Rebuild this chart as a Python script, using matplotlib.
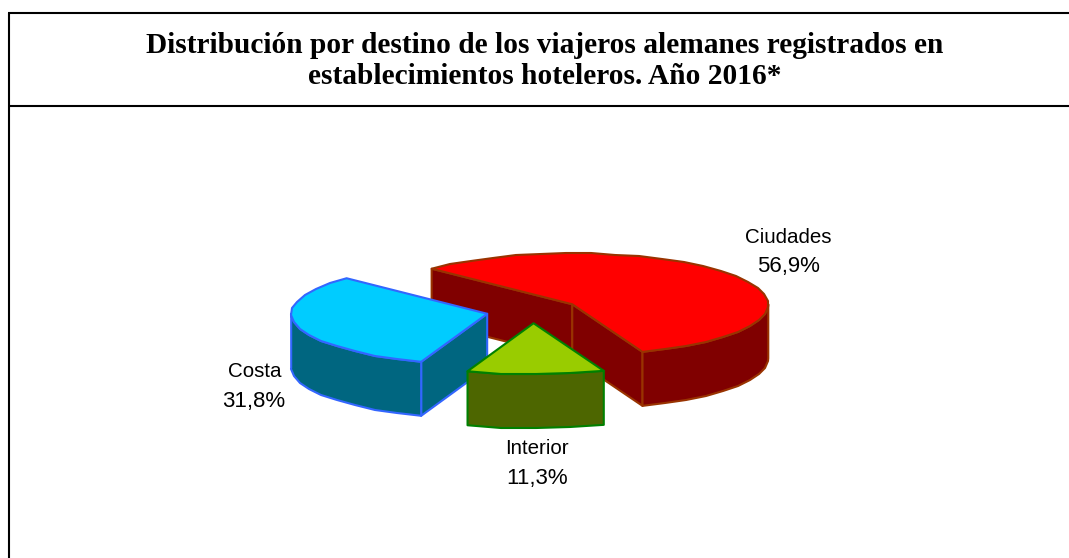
import numpy as np
import matplotlib
matplotlib.use("Agg")
import matplotlib.pyplot as plt
from matplotlib.patches import Polygon

categories = ["Ciudades", "Costa", "Interior"]
values = [56.9, 31.8, 11.3]
value_labels = ["56,9%", "31,8%", "11,3%"]
title_lines = ["Distribución por destino de los viajeros alemanes registrados en",
               "establecimientos hoteleros. Año 2016*"]

top_colors = ["#FF0000", "#00CCFF", "#99CC00"]
side_colors = ["#800000", "#006680", "#4D6600"]
edge_colors = ["#993300", "#3366FF", "#008000"]
name_pos = [(788, 243), (255, 377), (537, 454)]
value_pos = [(788, 272), (254, 407), (537, 484)]

W, H = 1069, 558
CX, CY, A, B, DEPTH, EXPLODE, START = 533, 311, 196, 51, 54, 0.24, -69

fig = plt.figure(figsize=(W / 100, H / 100), dpi=100)
ax = fig.add_axes([0, 0, 1, 1])
ax.set_xlim(0, W)
ax.set_ylim(H, 0)
ax.axis("off")


def pt(c, t):
    r = np.radians(t)
    return np.column_stack([c[0] + A * np.cos(r), c[1] - B * np.sin(r)])


def coarse(pts):
    # the reference curve is a coarse polyline, stepped in whole device units
    out = pts.copy()
    out[1:-1] = np.round(out[1:-1])
    return out


def shape(pts, fc, ec, z):
    ax.add_patch(Polygon(pts, closed=True, fc=fc, ec=ec, lw=1.5, zorder=z, joinstyle="round"))


def drop(pts):
    return pts + np.array([0, DEPTH])


bounds = START + np.concatenate([[0], np.cumsum(values)]) * 360 / sum(values)
radial_faces = [(1, 0), (1,), ()]  # 1 = end edge, 0 = start edge of each slice
for i in range(len(values)):
    t0, t1 = bounds[i], bounds[i + 1]
    n = max(4, int((t1 - t0) / 7))
    mid = np.radians((t0 + t1) / 2)
    c = (CX + EXPLODE * A * np.cos(mid), CY - EXPLODE * B * np.sin(mid))
    apex = np.array([c])
    z = (i + 1) * 10
    # radial side faces, back one first
    for which in radial_faces[i]:
        e = pt(c, np.array([t1 if which else t0]))
        shape(np.vstack([apex, e, drop(e), drop(apex)]), side_colors[i], edge_colors[i], z)
    # outer wall on the front half of the ellipse
    wall_t = np.array([t for t in np.linspace(t0, t1, n) if np.sin(np.radians(t)) <= 0])
    groups = np.split(wall_t, np.where(np.diff(wall_t) > 50)[0] + 1)
    for g in groups:
        if t0 < 0:
            g = np.append(g[g < 0], 0)  # wall ends exactly at the right extreme
        if t0 < 180 < t1:
            g = np.insert(g, 0, 180)  # wall starts exactly at the left extreme
        w = coarse(pt(c, g))
        shape(np.vstack([w, drop(w)[::-1]]), side_colors[i], edge_colors[i], z + 1)
    rim = coarse(pt(c, np.linspace(t0, t1, n)))
    shape(np.vstack([apex, rim]), top_colors[i], edge_colors[i], z + 2)

# frame: left, top and title rule only
frame_kw = dict(color="black", lw=1.5, solid_capstyle="butt", zorder=50)
ax.plot([9, 9], [12.5, H], **frame_kw)
ax.plot([8.3, W], [13, 13], **frame_kw)
ax.plot([8.3, W], [105.5, 105.5], **frame_kw)

for y, line in zip((53, 84), title_lines):
    ax.text(545, y, line, ha="center", va="baseline", family="Liberation Serif",
            weight="bold", fontsize=21.2, color="black")

for (x, y), name in zip(name_pos, categories):
    ax.text(x, y, name, ha="center", va="baseline", family="Liberation Sans", fontsize=14.8, color="black")
for (x, y), val in zip(value_pos, value_labels):
    ax.text(x, y, val, ha="center", va="baseline", family="Liberation Sans", fontsize=16, color="black")

fig.savefig("out.png", dpi=100, facecolor="white")
